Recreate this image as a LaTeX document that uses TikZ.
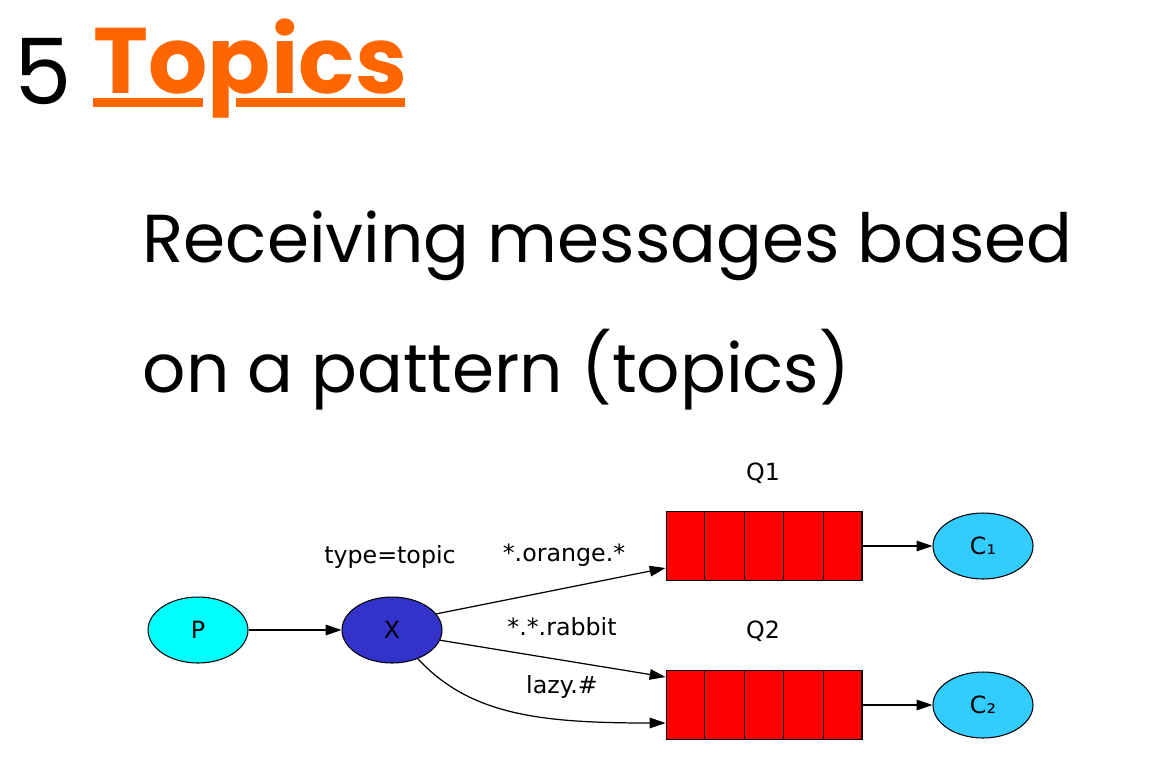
\documentclass[tikz,border=0pt]{standalone}
\usepackage{fontspec}
\usepackage{tikz}
\usetikzlibrary{positioning,shapes.geometric,arrows.meta,calc}

\newfontfamily\slidefont{Poppins}
\newfontfamily\dotfont{DejaVu Sans}
\definecolor{titleorange}{RGB}{255,102,0}
\definecolor{prodcyan}{RGB}{0,255,255}
\definecolor{exblue}{RGB}{51,51,204}
\definecolor{conscyan}{RGB}{51,204,255}
\definecolor{queuered}{RGB}{255,0,0}

\begin{document}
\begin{tikzpicture}[x=0.02cm, y=-0.02cm, line width=0.7pt,
    font=\dotfont\fontsize{13.5}{16}\selectfont,
    >={Triangle[length=9pt, width=6pt]}]

    \useasboundingbox (0, 0) rectangle (1172, 778);

    % --- TITOLO ---
    \node[anchor=base west, inner sep=0, font=\slidefont\fontsize{52}{56}\selectfont] (num) at (14, 104) {5};
    \node[anchor=base west, inner sep=0, text=titleorange,
          font=\slidefont\bfseries\fontsize{53}{56}\selectfont] (title) at (93, 93) {Topics};
    \fill[titleorange] (93, 98) rectangle (203, 107);
    \fill[titleorange] (236, 98) rectangle (405, 107);

    % --- SOTTOTITOLO ---
    \tikzset{sub/.style={anchor=base west, inner sep=0, font=\slidefont\fontsize{38.6}{44}\selectfont}}
    \node[sub] (line1) at (142, 262) {Receiving messages based};
    \node[sub] (line2) at (142, 392) {on a pattern (topics)};

    % --- GRAFO ---
    \tikzset{
        oval/.style={ellipse, draw, line width=0.6pt, minimum width=2cm, minimum height=1.32cm, inner sep=0},
        queue/.style={draw, fill=queuered, line width=0.6pt, minimum width=3.92cm, minimum height=1.38cm, inner sep=0},
        lbl/.style={inner sep=0}
    }

    \node[oval, fill=prodcyan] (P) at (198, 630) {P};
    \node[oval, fill=exblue] (X) at (392, 630) {X};

    \node[queue] (Q1) at (764, 546) {};
    \node[queue] (Q2) at (764, 705) {};
    \foreach \q in {Q1, Q2}
        \foreach \i in {1,...,4}
            \draw[line width=0.6pt] ($(\q.north west)!\i/5!(\q.north east)$) -- ($(\q.south west)!\i/5!(\q.south east)$);

    \node[oval, fill=conscyan] (C1) at (983, 546) {C₁};
    \node[oval, fill=conscyan] (C2) at (983, 705) {C₂};

    % etichette
    \node[lbl] (typ) at (390, 557) {type=topic};
    \node[lbl] (q1lbl) at (763, 473) {Q1};
    \node[lbl] (q2lbl) at (763, 631) {Q2};
    \node[lbl] (orange) at (564, 555) {*.orange.*};
    \node[lbl] (rabbit) at (562, 627) {*.*.rabbit};
    \node[lbl] (lazy) at (562, 687) {lazy.\#};

    % archi
    \draw[->] (P) -- (X);
    \draw[->] (X.20) -- ($(Q1.west)+(0, 22)$);
    \draw[->] (X.-12) -- ($(Q2.west)+(0, -28)$);
    \draw[->] (X.-48) .. controls (470, 715) and (540, 723) .. ($(Q2.west)+(0, 18)$);
    \draw[->] (Q1) -- (C1);
    \draw[->] (Q2) -- (C2);

\end{tikzpicture}
\end{document}
